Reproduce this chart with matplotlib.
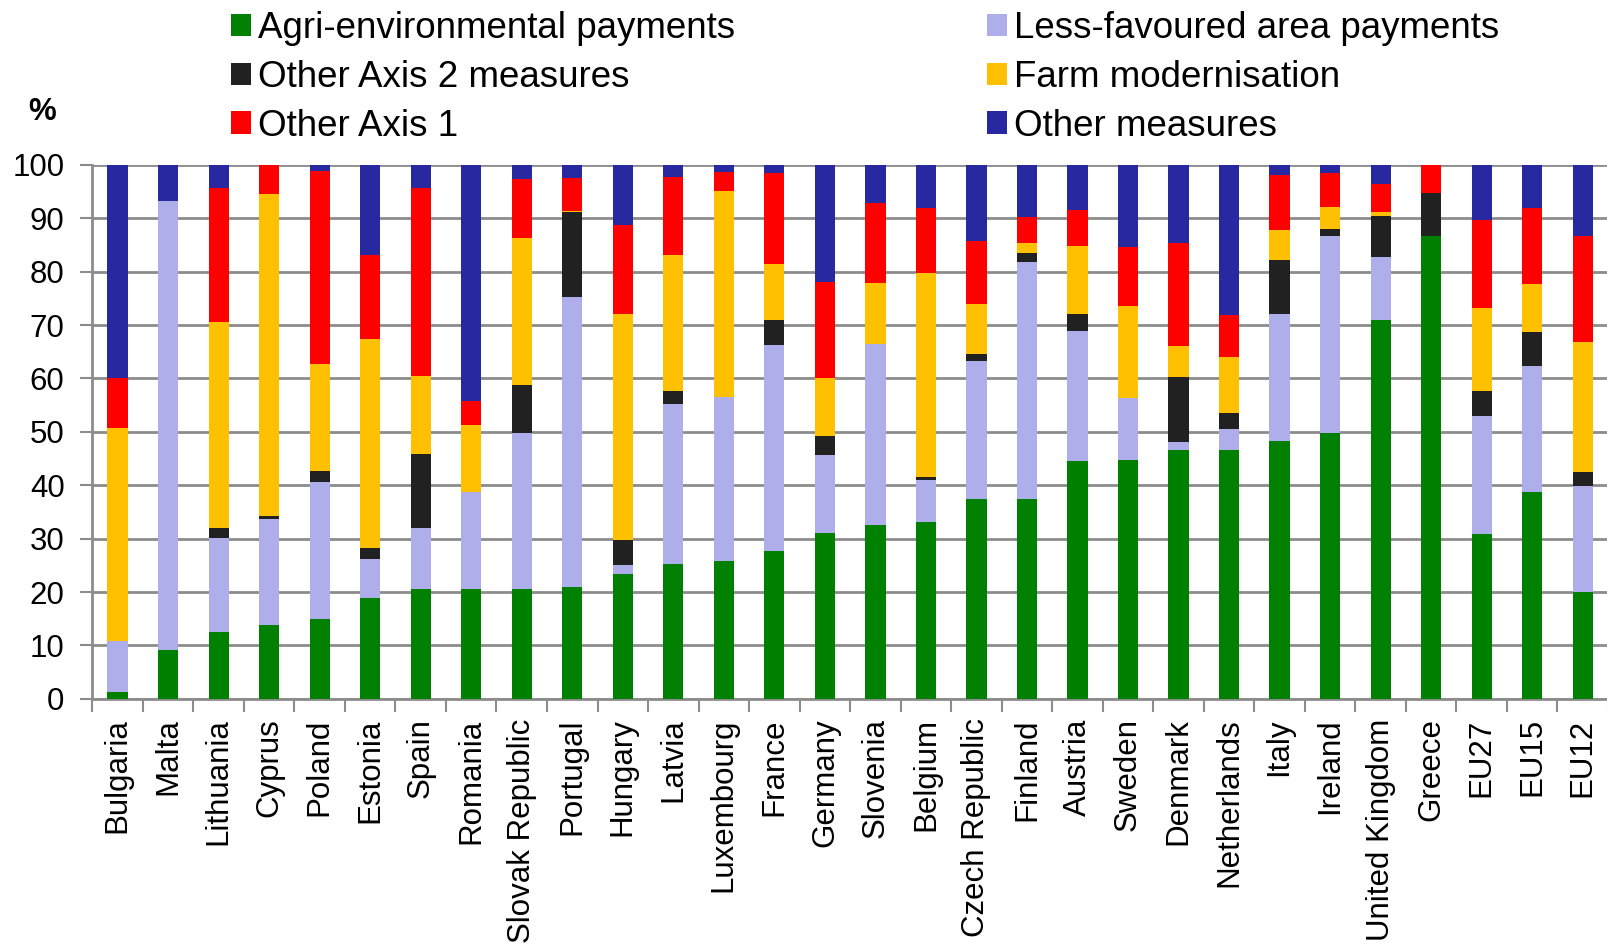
import numpy as np
import matplotlib.pyplot as plt
from matplotlib.patches import Patch

plt.rcParams["font.family"] = ["Liberation Sans", "DejaVu Sans"]

# =====================================
# Data (% of rural development spending)
# =====================================

countries = [
    "Bulgaria", "Malta", "Lithuania", "Cyprus", "Poland", "Estonia",
    "Spain", "Romania", "Slovak Republic", "Portugal", "Hungary", "Latvia",
    "Luxembourg", "France", "Germany", "Slovenia", "Belgium",
    "Czech Republic", "Finland", "Austria", "Sweden", "Denmark",
    "Netherlands", "Italy", "Ireland", "United Kingdom", "Greece",
    "EU27", "EU15", "EU12"
]

agri_env = [1.3, 9.1, 12.6, 13.9, 15.0, 18.9, 20.6, 20.6, 20.6, 20.9,
            23.3, 25.3, 25.8, 27.7, 31.1, 32.6, 33.1, 37.4, 37.4, 44.6,
            44.7, 46.6, 46.6, 48.2, 49.7, 70.9, 86.6, 30.9, 38.7, 20.0]

lfa = [9.6, 84.1, 17.5, 19.7, 25.6, 7.3, 11.4, 18.1, 29.1, 54.3,
       1.7, 29.9, 30.7, 38.5, 14.5, 33.8, 7.8, 25.8, 44.4, 24.3,
       11.7, 1.5, 4.0, 23.9, 36.9, 11.9, 0.0, 22.1, 23.6, 19.9]

other_axis2 = [0.0, 0.0, 1.9, 0.6, 2.0, 2.1, 13.8, 0.0, 9.1, 15.9,
               4.7, 2.5, 0.0, 4.7, 3.7, 0.0, 0.7, 1.4, 1.7, 3.2,
               0.0, 12.2, 2.9, 10.0, 1.3, 7.7, 8.2, 4.6, 6.3, 2.5]

farm_mod = [39.8, 0.0, 38.5, 60.4, 20.1, 39.1, 14.7, 12.6, 27.5, 0.2,
            42.3, 25.4, 38.5, 10.5, 10.7, 11.4, 38.1, 9.4, 1.9, 12.7,
            17.1, 5.7, 10.6, 5.7, 4.2, 0.7, 0.0, 15.5, 9.1, 24.4]

other_axis1 = [9.4, 0.0, 25.1, 5.4, 36.2, 15.7, 35.1, 4.5, 11.0, 6.2,
               16.8, 14.6, 3.7, 17.1, 18.0, 15.0, 12.2, 11.8, 4.9, 6.7,
               11.1, 19.3, 7.8, 10.3, 6.3, 5.2, 5.2, 16.6, 14.3, 19.8]

other_measures = [39.9, 6.8, 4.4, 0.0, 1.1, 16.9, 4.4, 44.2, 2.7, 2.5,
                  11.2, 2.3, 1.3, 1.5, 22.0, 7.2, 8.1, 14.2, 9.7, 8.5,
                  15.4, 14.7, 28.1, 1.9, 1.6, 3.6, 0.0, 10.3, 8.0, 13.4]

series = [
    ("Agri-environmental payments", agri_env, "#008000"),
    ("Less-favoured area payments", lfa, "#AEAEEA"),
    ("Other Axis 2 measures", other_axis2, "#212121"),
    ("Farm modernisation", farm_mod, "#FFC000"),
    ("Other Axis 1", other_axis1, "#FF0000"),
    ("Other measures", other_measures, "#2828A0"),
]

# =====================================
# Stacked bar chart
# =====================================

fig = plt.figure(figsize=(16.08, 9.47), dpi=100)
ax = fig.add_axes([0.0574, 0.262, 0.9426, 0.564])

x = np.arange(len(countries))
bottom = np.zeros(len(countries))
handles = {}

for name, values, color in series:
    ax.bar(x, values, width=0.4, bottom=bottom, color=color,
           linewidth=0, zorder=3)
    bottom += np.array(values)
    handles[name] = Patch(facecolor=color, edgecolor="none")

ax.set_xlim(-0.5, len(countries) - 0.5)
ax.set_ylim(0, 100)
ax.set_yticks(np.arange(0, 101, 10))
ax.yaxis.grid(True, color="#8c8c8c", linewidth=2, zorder=0)

ax.set_xticks(x)
ax.set_xticklabels(countries, rotation=90, fontsize=22.5)
ax.set_xticks(np.arange(-0.5, len(countries)), minor=True)
ax.tick_params(axis="x", which="major", length=0, pad=14)
ax.tick_params(axis="x", which="minor", length=9, width=1.5,
               color="#8c8c8c", direction="out")
ax.tick_params(axis="y", length=9, width=1.5, color="#8c8c8c",
               labelsize=22.5, pad=11)

for side in ["top", "right"]:
    ax.spines[side].set_visible(False)
for side in ["left", "bottom"]:
    ax.spines[side].set_color("#8c8c8c")
    ax.spines[side].set_linewidth(2)

fig.text(0.026, 0.882, "%", fontsize=22.5, fontweight="bold",
         ha="center", va="center")

# =====================================
# Legend (two columns)
# =====================================

legend_kw = dict(loc="upper left", frameon=False, fontsize=26.5,
                 handlelength=0.55, handleheight=0.55, handletextpad=0.2,
                 labelspacing=0.37, borderpad=0, borderaxespad=0)

col1 = ["Agri-environmental payments", "Other Axis 2 measures", "Other Axis 1"]
col2 = ["Less-favoured area payments", "Farm modernisation", "Other measures"]

leg1 = fig.legend([handles[n] for n in col1], col1,
                  bbox_to_anchor=(0.1435, 0.988), **legend_kw)
leg2 = fig.legend([handles[n] for n in col2], col2,
                  bbox_to_anchor=(0.6135, 0.988), **legend_kw)

plt.savefig("out.png", dpi=100)
